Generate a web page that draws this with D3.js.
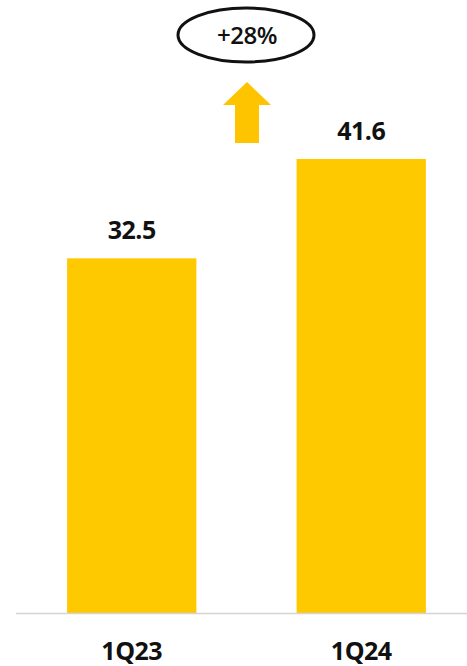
<!DOCTYPE html>
<html>
<head>
<meta charset="utf-8">
<script src="https://cdn.jsdelivr.net/npm/d3@7"></script>
<style>
  body { margin: 0; background: #fff; }
  text { font-family: "Open Sans", Roboto, sans-serif; font-weight: 700; fill: #111; }
</style>
</head>
<body>
<svg id="chart" width="467" height="666"></svg>
<script>
const categories = ["1Q23", "1Q24"]
const values = [32.5, 41.6]
const valueLabels = ["32.5", "41.6"]
const growthLabel = "+28%"

const svg = d3.select("#chart")

const x = d3.scaleBand()
	.domain(categories)
	.range([17, 476])
	.paddingInner(0.4367)
	.paddingOuter(0.2183)

const y = d3.scaleLinear()
	.domain([0, 41.6])
	.range([613, 159])

// bars
svg.append("g")
	.selectAll("rect")
	.data(values)
	.join("rect")
	.attr("x", (d, i) => x(categories[i]))
	.attr("y", d => y(d))
	.attr("width", x.bandwidth())
	.attr("height", d => y(0) - y(d))
	.attr("fill", "#FFC900")

// baseline
svg.append("line")
	.attr("x1", 16).attr("x2", 467)
	.attr("y1", y(0) + 0.5).attr("y2", y(0) + 0.5)
	.attr("stroke", "#d4d4d4")
	.attr("stroke-width", 1.5)

// value labels
svg.append("g")
	.selectAll("text")
	.data(values)
	.join("text")
	.attr("x", (d, i) => x(categories[i]) + x.bandwidth() / 2)
	.attr("y", d => y(d) - 19)
	.attr("text-anchor", "middle")
	.attr("font-size", 25)
	.attr("letter-spacing", -0.5)
	.text((d, i) => valueLabels[i])

// category axis
const axis = svg.append("g")
	.attr("transform", `translate(0,${y(0)})`)
	.call(d3.axisBottom(x).tickSize(0).tickPadding(29))
axis.select(".domain").remove()
axis.selectAll("text")
	.attr("font-size", 25)
	.attr("letter-spacing", -0.5)
	.style("font-family", "'Open Sans', sans-serif")
	.style("font-weight", 700)
	.attr("fill", "#111")

// growth arrow + bubble
const cx = 247
svg.append("path")
	.attr("d", `M${cx - 12},143 L${cx - 12},105 L${cx - 24},105 L${cx},82 L${cx + 24},105 L${cx + 12},105 L${cx + 12},143 Z`)
	.attr("fill", "#FFC400")

svg.append("ellipse")
	.attr("cx", cx - 1).attr("cy", 35)
	.attr("rx", 68).attr("ry", 27)
	.attr("fill", "none")
	.attr("stroke", "#111")
	.attr("stroke-width", 3)

svg.append("text")
	.attr("x", cx).attr("y", 44)
	.attr("text-anchor", "middle")
	.attr("font-size", 24)
	.attr("letter-spacing", -0.5)
	.style("font-weight", 600)
	.text(growthLabel)
</script>
</body>
</html>
